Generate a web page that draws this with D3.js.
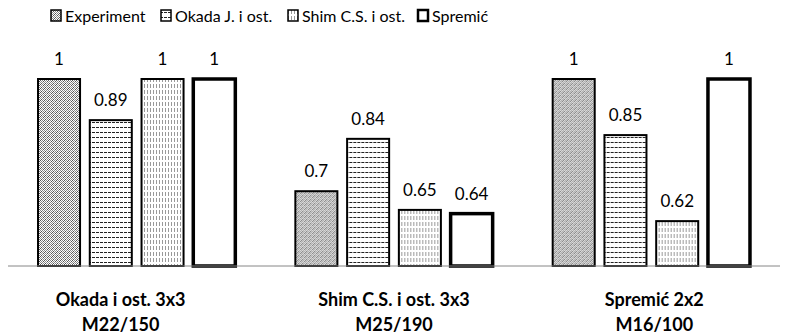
<!DOCTYPE html>
<html>
<head>
<meta charset="utf-8">
<script src="https://cdn.jsdelivr.net/npm/d3@7"></script>
<style>
  body { margin: 0; background: #fff; }
  text { font-family: Lato, "Open Sans", sans-serif; fill: #000; }
</style>
</head>
<body>
<div id="chart"></div>
<script>
// chart data
const groups = [
  ['Okada i ost. 3x3', 'M22/150'],
  ['Shim C.S. i ost. 3x3', 'M25/190'],
  ['Spremić 2x2', 'M16/100']
];
const seriesNames = ['Experiment', 'Okada J. i ost.', 'Shim C.S. i ost.', 'Spremić'];
const experiment = [1, 0.7, 1];
const okada = [0.89, 0.84, 0.85];
const shim = [1, 0.65, 0.62];
const spremic = [1, 0.64, 1];
const yDomain = [0.5, 1];

const width = 785, height = 336;
const margin = { top: 79, right: 5, bottom: 70, left: 8 };
const values = [experiment, okada, shim, spremic];
// excel wraps the category labels a little off centre
const labelShift = [-16, 0, 3];

const svg = d3.select('#chart').append('svg')
  .attr('width', width)
  .attr('height', height);

// fill patterns
const defs = svg.append('defs');

const p0 = defs.append('pattern').attr('id', 'pat0')
  .attr('patternUnits', 'userSpaceOnUse').attr('width', 4).attr('height', 4);
p0.append('rect').attr('width', 4).attr('height', 4).attr('fill', '#fff');
[[0, 0], [2, 0], [1, 1], [3, 1], [0, 2], [2, 2], [1, 3], [3, 3]].forEach(([x, y], i) => {
  p0.append('rect').attr('x', x).attr('y', y).attr('width', 1).attr('height', 1)
    .attr('fill', i % 3 === 0 ? '#555' : '#8a8a8a');
});

const p1 = defs.append('pattern').attr('id', 'pat1')
  .attr('patternUnits', 'userSpaceOnUse').attr('width', 4).attr('height', 5);
p1.append('rect').attr('width', 4).attr('height', 5).attr('fill', '#fff');
p1.append('rect').attr('x', 0).attr('y', 2).attr('width', 3).attr('height', 1).attr('fill', '#222');

const p2 = defs.append('pattern').attr('id', 'pat2')
  .attr('patternUnits', 'userSpaceOnUse').attr('width', 3).attr('height', 6);
p2.append('rect').attr('width', 3).attr('height', 6).attr('fill', '#fff');
p2.append('rect').attr('x', 1).attr('y', 0).attr('width', 1).attr('height', 4).attr('fill', '#999');

const fills = ['url(#pat0)', 'url(#pat1)', 'url(#pat2)', '#fff'];
const strokeW = [2, 2, 2, 3.5];

const x0 = d3.scaleBand()
  .domain(d3.range(groups.length))
  .range([margin.left, width - margin.right])
  .paddingInner(0).paddingOuter(0);

const x1 = d3.scaleBand()
  .domain(d3.range(seriesNames.length))
  .range([0, x0.bandwidth()])
  .paddingInner(0.188)
  .paddingOuter(0.58);

const y = d3.scaleLinear()
  .domain(yDomain)
  .range([height - margin.bottom, margin.top]);

const g = svg.selectAll('g.grp')
  .data(groups)
  .enter().append('g')
  .attr('class', 'grp')
  .attr('transform', (d, i) => `translate(${x0(i)},0)`);

g.selectAll('rect')
  .data((d, i) => values.map((s, k) => ({ k, v: s[i] })))
  .enter().append('rect')
  .attr('x', d => x1(d.k))
  .attr('y', d => y(d.v))
  .attr('width', x1.bandwidth())
  .attr('height', d => y(yDomain[0]) - y(d.v))
  .attr('fill', d => fills[d.k])
  .attr('stroke', '#000')
  .attr('stroke-width', d => strokeW[d.k]);

g.selectAll('text.val')
  .data((d, i) => values.map((s, k) => ({ k, v: s[i] })))
  .enter().append('text')
  .attr('class', 'val')
  .attr('x', d => x1(d.k) + x1.bandwidth() / 2)
  .attr('y', d => y(d.v) - 14)
  .attr('text-anchor', 'middle')
  .style('font-size', '17px')
  .text(d => d.v);

// baseline
svg.append('line')
  .attr('x1', margin.left).attr('x2', width - margin.right)
  .attr('y1', y(yDomain[0])).attr('y2', y(yDomain[0]))
  .attr('stroke', '#868686').attr('stroke-width', 1);

// category labels
g.append('text')
  .attr('x', (d, i) => x0.bandwidth() / 2 + labelShift[i])
  .attr('y', 306)
  .attr('text-anchor', 'middle')
  .style('font-size', '18px').style('font-weight', 'bold')
  .text(d => d[0]);
g.append('text')
  .attr('x', (d, i) => x0.bandwidth() / 2 + labelShift[i])
  .attr('y', 331)
  .attr('text-anchor', 'middle')
  .style('font-size', '18px').style('font-weight', 'bold')
  .text(d => d[1]);

// legend
const legX = [50, 160, 287, 417];
const leg = svg.selectAll('g.leg')
  .data(seriesNames)
  .enter().append('g')
  .attr('class', 'leg')
  .attr('transform', (d, i) => `translate(${legX[i]},10)`);
leg.append('rect')
  .attr('x', 1).attr('y', 0)
  .attr('width', 10).attr('height', 11)
  .attr('fill', (d, i) => fills[i])
  .attr('stroke', '#000')
  .attr('stroke-width', (d, i) => i === 3 ? 2.5 : 1.5);
leg.append('text')
  .attr('x', 15).attr('y', 11.5)
  .style('font-size', '16px')
  .text(d => d);
</script>
</body>
</html>
